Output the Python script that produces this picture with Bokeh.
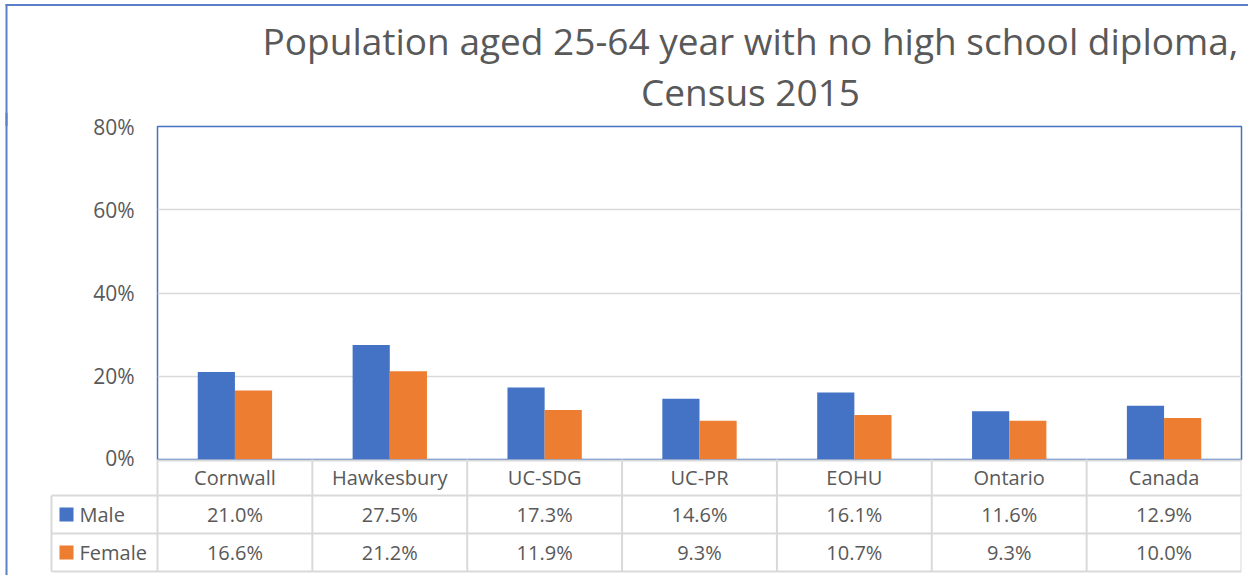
from bokeh.plotting import figure
from bokeh.models import (ColumnDataSource, FactorRange, Range1d, FixedTicker,
                          PrintfTickFormatter)
from bokeh.transform import dodge
from bokeh.core.properties import value
from bokeh.embed import file_html
from bokeh.resources import INLINE

# ---------------- data ----------------
categories = ["Cornwall", "Hawkesbury", "UC-SDG", "UC-PR", "EOHU", "Ontario", "Canada"]
male = [21.0, 27.5, 17.3, 14.6, 16.1, 11.6, 12.9]
female = [16.6, 21.2, 11.9, 9.3, 10.7, 9.3, 10.0]
series_names = ["Male", "Female"]
y_ticks = [0, 20, 40, 60, 80]
title_lines = ["Population aged 25-64 year with no high school diploma,", "Census 2015"]

BLUE = "#4472C4"
ORANGE = "#ED7D31"
GRID = "#D9D9D9"
TXT = "#595959"
EDGE = "#5B80C8"
FONT = "Open Sans"

W = 1248
FRAME_L = 157
FRAME_R = 1241
COL_W = (FRAME_R - FRAME_L) / 7.0
EDGE_X = 6  # outer chart border, px from left

# ---------------- title ----------------
TH = 126
tf = figure(width=W, height=TH, x_range=Range1d(0, W), y_range=Range1d(TH, 0),
            output_backend="svg", toolbar_location=None, min_border=0)
tf.axis.visible = False
tf.grid.visible = False
tf.outline_line_color = None
tf.text(x=[750, 750], y=[40, 91], text=title_lines, text_align="center",
        text_baseline="middle", text_font=value(FONT), text_font_size="37px",
        text_color=TXT)
# outer chart border (top and left)
tf.segment(x0=[EDGE_X - 1, EDGE_X], y0=[4.5, 4], x1=[W, EDGE_X], y1=[4.5, TH],
           line_color=EDGE, line_width=2)

# ---------------- bars ----------------
TOP_PAD, BOT_PAD = 14, 12
PH = 333 + TOP_PAD + BOT_PAD
src = ColumnDataSource(dict(cat=categories, male=male, female=female))
p = figure(width=W, height=PH,
           x_range=FactorRange(factors=categories, range_padding=0),
           y_range=Range1d(0, 80), output_backend="svg", toolbar_location=None,
           min_border_left=FRAME_L, min_border_right=W - FRAME_R,
           min_border_top=TOP_PAD, min_border_bottom=BOT_PAD)
p.vbar(x=dodge("cat", -0.12, range=p.x_range), top="male", width=0.24, source=src,
       fill_color=BLUE, line_color=None)
p.vbar(x=dodge("cat", 0.12, range=p.x_range), top="female", width=0.24, source=src,
       fill_color=ORANGE, line_color=None)
p.xaxis.visible = False
p.xgrid.visible = False
p.ygrid.grid_line_color = GRID
p.ygrid.grid_line_width = 1.5
p.yaxis.ticker = FixedTicker(ticks=y_ticks)
p.yaxis.formatter = PrintfTickFormatter(format="%d%%")
p.yaxis.axis_line_color = None
p.yaxis.major_tick_line_color = None
p.yaxis.minor_tick_line_color = None
p.yaxis.major_tick_out = 0
p.yaxis.major_tick_in = 0
p.yaxis.major_label_standoff = 23
p.yaxis.major_label_text_font = FONT
p.yaxis.major_label_text_font_size = "21px"
p.yaxis.major_label_text_color = TXT
p.outline_line_color = BLUE
p.outline_line_width = 1.5
p.border_fill_color = None
p.styles = {"margin-top": f"-{TOP_PAD}px"}

# ---------------- data table (transparent overlay, starts at bar-figure top) ----------------
n = len(categories)
OFF = 333 + TOP_PAD          # table top, measured from the overlay's top
BH = OFF + 116
x_start = -FRAME_L / COL_W
x0 = -(FRAME_L - 51) / COL_W
t = figure(width=W, height=BH, x_range=Range1d(x_start, n), y_range=Range1d(BH, 0),
           output_backend="svg", toolbar_location=None,
           min_border_left=0, min_border_right=W - FRAME_R, min_border_top=0,
           min_border_bottom=0)
t.axis.visible = False
t.grid.visible = False
t.outline_line_color = None
t.background_fill_color = None
t.border_fill_color = None
t.styles = {"margin-top": f"-{PH}px"}

row_lines = [OFF + v for v in (1, 36, 74, 112)]
t.segment(x0=[0, x0, x0, x0], y0=row_lines, x1=[n] * 4, y1=row_lines,
          line_color=GRID, line_width=2)
vx = list(range(n + 1)) + [x0]
t.segment(x0=vx, y0=[OFF] * (n + 1) + [OFF + 36], x1=vx, y1=[OFF + 112] * (n + 2),
          line_color=GRID, line_width=2)
# outer chart border (left), full height of the overlay
t.segment(x0=[x_start + EDGE_X / COL_W], y0=[0], x1=[x_start + EDGE_X / COL_W], y1=[BH],
          line_color=EDGE, line_width=2)

centers = [i + 0.5 for i in range(n)]
text_kw = dict(text_align="center", text_baseline="middle", text_font=value(FONT),
               text_font_size="20px", text_color=TXT)
t.text(x=centers, y=[OFF + 18] * n, text=categories, **text_kw)
t.text(x=centers, y=[OFF + 55] * n, text=[f"{v:.1f}%" for v in male], **text_kw)
t.text(x=centers, y=[OFF + 93] * n, text=[f"{v:.1f}%" for v in female], **text_kw)

sq_x = x0 + (66 - 51) / COL_W
t.scatter(x=[sq_x, sq_x], y=[OFF + 55, OFF + 93], marker="square", size=14,
          fill_color=[BLUE, ORANGE], line_color=None)
t.text(x=[x0 + (79 - 51) / COL_W] * 2, y=[OFF + 55, OFF + 93], text=series_names,
       text_align="left", text_baseline="middle", text_font=value(FONT),
       text_font_size="20px", text_color=TXT)

open("out.html", "w").write(file_html([tf, p, t], INLINE))
